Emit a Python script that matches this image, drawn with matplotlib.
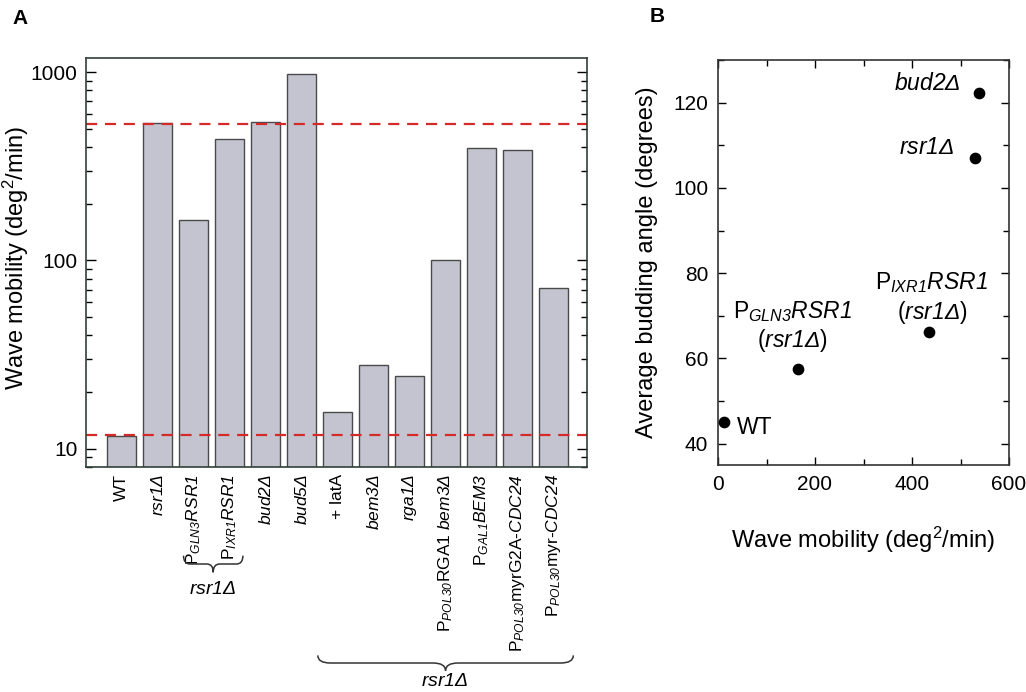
import matplotlib
matplotlib.use("Agg")
import matplotlib.pyplot as plt
from matplotlib.path import Path
from matplotlib.patches import PathPatch
from matplotlib.ticker import LogLocator, NullFormatter, MultipleLocator
import matplotlib.transforms as mtransforms

plt.rcParams['font.family'] = ['Liberation Sans', 'DejaVu Sans']
plt.rcParams['mathtext.fontset'] = 'custom'
# rm is italic here so digits come out slanted too; sf is the upright face
plt.rcParams['mathtext.rm'] = 'Liberation Sans:italic'
plt.rcParams['mathtext.it'] = 'Liberation Sans:italic'
plt.rcParams['mathtext.sf'] = 'Liberation Sans'
plt.rcParams['mathtext.bf'] = 'Liberation Sans:bold'

# panel A data
strains = [
    r'WT',
    r'$\mathrm{rsr1Δ}$',
    r'$\mathsf{P}_{\mathrm{GLN3}}\mathrm{RSR1}$',
    r'$\mathsf{P}_{\mathrm{IXR1}}\mathrm{RSR1}$',
    r'$\mathrm{bud2Δ}$',
    r'$\mathrm{bud5Δ}$',
    r'+ latA',
    r'$\mathrm{bem3Δ}$',
    r'$\mathrm{rga1Δ}$',
    r'$\mathsf{P}_{\mathrm{POL30}}\mathsf{RGA1}\ \mathrm{bem3Δ}$',
    r'$\mathsf{P}_{\mathrm{GAL1}}\mathrm{BEM3}$',
    r'$\mathsf{P}_{\mathrm{POL30}}\mathsf{myrG2A}$-$\mathrm{CDC24}$',
    r'$\mathsf{P}_{\mathrm{POL30}}\mathsf{myr}$-$\mathrm{CDC24}$',
]
mobility = [11.7, 536, 165, 441, 545, 975, 15.6, 28, 24.2, 101, 397, 385, 71]
ref_lines = [11.8, 528]

# panel B data
b_names = ['WT', 'GLN3', 'IXR1', 'rsr1', 'bud2']
b_mobility = [12, 165, 436, 529, 539]
b_angle = [45.1, 57.6, 66.1, 107, 122.2]

fig = plt.figure(figsize=(10.26, 6.92), dpi=100)

# ---------- A ----------
axA = fig.add_axes([86/1026, 1-467/692, 501/1026, 409/692])
xs = list(range(len(mobility)))
axA.bar(xs, mobility, width=0.8, color='#c4c4d0', edgecolor='#4a4a4a', linewidth=1.0)
for v in ref_lines:
    axA.axhline(v, color='#d42a2a', linestyle=(0, (5, 3.5)), linewidth=1.6)
axA.set_yscale('log')
axA.set_ylim(8.0, 1190)
axA.set_xlim(-0.99, 12.93)
axA.set_yticks([10, 100, 1000])
axA.set_yticklabels(['10', '100', '1000'])
axA.yaxis.set_minor_locator(LogLocator(base=10, subs=range(2, 10)))
axA.yaxis.set_minor_formatter(NullFormatter())
axA.tick_params(axis='y', which='major', direction='in', length=7, width=1,
                labelsize=15, right=True, pad=6)
axA.tick_params(axis='y', which='minor', direction='in', length=4, width=1, right=True)
axA.set_xticks(xs)
axA.set_xticklabels(strains, rotation=90, fontsize=12.5)
axA.tick_params(axis='x', length=0, pad=5)
axA.set_ylabel(r'Wave mobility (deg$^{\mathsf{2}}$/min)', fontsize=17)
axA.yaxis.set_label_coords(-0.11, 0.51)
for s in axA.spines.values():
    s.set_color('#334038')
    s.set_linewidth(1.2)

# braces under the labels
btr = mtransforms.blended_transform_factory(axA.transData, fig.transFigure)

def brace(x0, x1, yl, h=0.011, d=0.3):
    xm = (x0 + x1) / 2
    verts = [(x0, yl + h), (x0, yl), (x0 + d, yl),
             (xm - d, yl), (xm, yl), (xm, yl - h),
             (xm, yl), (xm + d, yl),
             (x1 - d, yl), (x1, yl), (x1, yl + h)]
    codes = [Path.MOVETO, Path.CURVE3, Path.CURVE3,
             Path.LINETO, Path.CURVE3, Path.CURVE3,
             Path.CURVE3, Path.CURVE3,
             Path.LINETO, Path.CURVE3, Path.CURVE3]
    p = PathPatch(Path(verts, codes), transform=btr, fill=False,
                  edgecolor='#333333', linewidth=1.1, clip_on=False)
    fig.add_artist(p)

brace(1.72, 3.37, 1 - 564/692, h=0.012, d=0.18)
brace(5.45, 12.55, 1 - 663/692, h=0.011, d=0.35)
fig.text(213/1026, 1 - 590/692, r'$\mathrm{rsr1Δ}$', ha='center', va='center', fontsize=14)
fig.text(445/1026, 1 - 681/692, r'$\mathrm{rsr1Δ}$', ha='center', va='center', fontsize=14)

# ---------- B ----------
axB = fig.add_axes([718/1026, 1-465/692, 291/1026, 405/692])
axB.scatter(b_mobility, b_angle, s=55, color='black', zorder=3)
axB.set_xlim(0, 600)
axB.set_ylim(35, 130)
axB.set_xticks([0, 200, 400, 600])
axB.set_yticks([40, 60, 80, 100, 120])
axB.xaxis.set_minor_locator(MultipleLocator(100))
axB.yaxis.set_minor_locator(MultipleLocator(10))
axB.tick_params(which='major', direction='in', length=6, width=1, labelsize=15,
                top=True, right=True, pad=7)
axB.tick_params(which='minor', direction='in', length=4, width=1, top=True, right=True)
axB.set_xlabel(r'Wave mobility (deg$^{\mathsf{2}}$/min)', fontsize=17)
axB.set_ylabel('Average budding angle (degrees)', fontsize=17)
axB.xaxis.set_label_coords(0.5, -0.148)
axB.yaxis.set_label_coords(-0.205, 0.5)
for s in axB.spines.values():
    s.set_color('#333333')
    s.set_linewidth(1.2)

fs = 16.5
axB.text(431, 124.6, r'$\mathrm{bud2Δ}$', ha='center', va='center', fontsize=fs)
axB.text(431, 109.4, r'$\mathrm{rsr1Δ}$', ha='center', va='center', fontsize=fs)
axB.text(441, 77.7, r'$\mathsf{P}_{\mathrm{IXR1}}\mathrm{RSR1}$', ha='center', va='center', fontsize=fs)
axB.text(441, 70.8, r'($\mathrm{rsr1Δ}$)', ha='center', va='center', fontsize=fs)
axB.text(153, 70.9, r'$\mathsf{P}_{\mathrm{GLN3}}\mathrm{RSR1}$', ha='center', va='center', fontsize=fs)
axB.text(153, 64.1, r'($\mathrm{rsr1Δ}$)', ha='center', va='center', fontsize=fs)
axB.text(76, 43.7, 'WT', ha='center', va='center', fontsize=fs)

fig.text(12/1026, 1 - 19/692, 'A', fontsize=15, fontweight='bold', va='center')
fig.text(650/1026, 1 - 17/692, 'B', fontsize=15, fontweight='bold', va='center')

fig.savefig('out.png', dpi=100)
